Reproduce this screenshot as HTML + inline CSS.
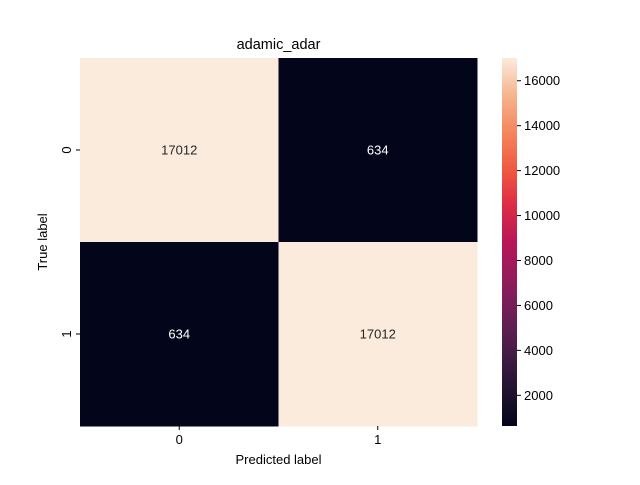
<!DOCTYPE html>
<html><head><meta charset="utf-8"><style>
body{margin:0;background:#fff;font-family:"Liberation Sans",sans-serif}
svg text{font-family:"Liberation Sans",sans-serif;font-size:13px;fill:#000}
</style></head><body>
<svg id="chart" width="640" height="480" xmlns="http://www.w3.org/2000/svg">
<defs><linearGradient id="rocket" x1="0" y1="1" x2="0" y2="0">
<stop offset="0" stop-color="#03051a"/><stop offset="0.1" stop-color="#221331"/><stop offset="0.2" stop-color="#451c47"/><stop offset="0.3" stop-color="#6a1f56"/><stop offset="0.4" stop-color="#921c5b"/><stop offset="0.5" stop-color="#b91657"/><stop offset="0.6" stop-color="#dd2c45"/><stop offset="0.7" stop-color="#ef5a41"/><stop offset="0.8" stop-color="#f4875e"/><stop offset="0.9" stop-color="#f6b48e"/><stop offset="1" stop-color="#faebdd"/>
</linearGradient></defs>
<text x="278.5" y="49" text-anchor="middle" style="font-size:14.5px">adamic_adar</text>
<g id="cells"></g>
<rect x="502" y="58" width="15" height="368" fill="url(#rocket)"/>
<g id="cbticks"></g>
<text x="278.5" y="464" text-anchor="middle">Predicted label</text>
<text transform="translate(47,242) rotate(-90)" text-anchor="middle">True label</text>
</svg>
<script>
const categories=["0","1"];
const matrix=[[17012,634],[634,17012]];
const cbTicks=[2000,4000,6000,8000,10000,12000,14000,16000];
const vmin=634, vmax=17012;
const L=80,R=477,T=58,B=426;
const ns="http://www.w3.org/2000/svg";
const svg=document.getElementById('chart');
const stops=[[3,5,26],[34,19,49],[69,28,71],[106,31,86],[146,28,91],[185,22,87],[221,44,69],[239,90,65],[244,135,94],[246,180,142],[250,235,221]];
function color(v){let t=(v-vmin)/(vmax-vmin);t=Math.max(0,Math.min(1,t))*10;const i=Math.min(9,Math.floor(t)),f=t-i;const a=stops[i],b=stops[i+1];return `rgb(${a.map((c,k)=>Math.round(c+(b[k]-c)*f)).join(',')})`;}
function mk(tag,attrs,parent){const e=document.createElementNS(ns,tag);for(const k in attrs)e.setAttribute(k,attrs[k]);(parent||svg).appendChild(e);return e;}
const n=categories.length,cw=(R-L)/n,ch=(B-T)/n;
const cells=document.getElementById('cells');
matrix.forEach((row,i)=>row.forEach((v,j)=>{
 const r=mk('rect',{x:L+j*cw,y:T+i*ch,width:cw+0.5,height:ch+0.5,fill:color(v)},cells);
 
 
 const t=mk('text',{x:L+(j+0.5)*cw,y:T+(i+0.5)*ch+4.5,'text-anchor':'middle',style:'fill:'+((v-vmin)/(vmax-vmin)>0.5?'#262626':'#fff')},cells);
 t.textContent=v;
 
 
}));
categories.forEach((c,j)=>{
 const x=L+(j+0.5)*cw;
 mk('line',{x1:x,x2:x,y1:B,y2:B+4,stroke:'#000'});
 const t=mk('text',{x:x,y:B+18,'text-anchor':'middle'});t.textContent=c;
 
 
 const y=T+(j+0.5)*ch;
 mk('line',{x1:L-4,x2:L,y1:y,y2:y,stroke:'#000'});
 const u=mk('text',{transform:`translate(${L-9},${y}) rotate(-90)`,'text-anchor':'middle'});u.textContent=c;
 
 
});
const cb=document.getElementById('cbticks');
cbTicks.forEach(v=>{
 const y=B-(v-vmin)/(vmax-vmin)*(B-T);
 mk('line',{x1:517,x2:521,y1:y,y2:y,stroke:'#000'},cb);
 const t=mk('text',{x:524,y:y+4.5},cb);t.textContent=v;
 
 
});
</script>
</body></html>
